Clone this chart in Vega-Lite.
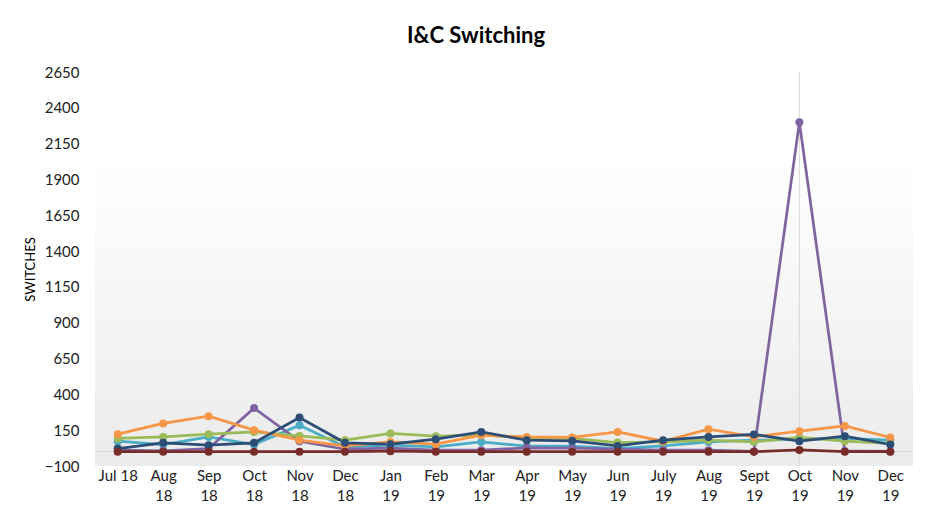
{
  "$schema": "https://vega.github.io/schema/vega-lite/v6.json",
  "autosize": {"type": "none"},
  "padding": {"left": 95, "top": 72, "right": 19, "bottom": 47},
  "width": 818,
  "height": 394,
  "background": "#ffffff",
  "title": {"text": "I&C Switching", "font": "Lato", "fontSize": 22, "fontWeight": "bold", "color": "#000000", "offset": 17, "dx": -28},
  "config": {"view": {"stroke": null}, "font": "Lato", "axis": {"labelOverlap": false}},
  "datasets": {
    "series": [
      {"s": "Series 3", "m": "Jul 18", "v": 73}, {"s": "Series 3", "m": "Aug 18", "v": 50}, {"s": "Series 3", "m": "Sep 18", "v": 103}, {"s": "Series 3", "m": "Oct 18", "v": 50}, {"s": "Series 3", "m": "Nov 18", "v": 185}, {"s": "Series 3", "m": "Dec 18", "v": 34}, {"s": "Series 3", "m": "Jan 19", "v": 45}, {"s": "Series 3", "m": "Feb 19", "v": 34}, {"s": "Series 3", "m": "Mar 19", "v": 68}, {"s": "Series 3", "m": "Apr 19", "v": 38}, {"s": "Series 3", "m": "May 19", "v": 38}, {"s": "Series 3", "m": "Jun 19", "v": 22}, {"s": "Series 3", "m": "July 19", "v": 40}, {"s": "Series 3", "m": "Aug 19", "v": 68}, {"s": "Series 3", "m": "Sept 19", "v": 80}, {"s": "Series 3", "m": "Oct 19", "v": 85}, {"s": "Series 3", "m": "Nov 19", "v": 92}, {"s": "Series 3", "m": "Dec 19", "v": 80},
      {"s": "Series 4", "m": "Jul 18", "v": 10}, {"s": "Series 4", "m": "Aug 18", "v": 6}, {"s": "Series 4", "m": "Sep 18", "v": 22}, {"s": "Series 4", "m": "Oct 18", "v": 304}, {"s": "Series 4", "m": "Nov 18", "v": 73}, {"s": "Series 4", "m": "Dec 18", "v": 17}, {"s": "Series 4", "m": "Jan 19", "v": 24}, {"s": "Series 4", "m": "Feb 19", "v": 10}, {"s": "Series 4", "m": "Mar 19", "v": 10}, {"s": "Series 4", "m": "Apr 19", "v": 27}, {"s": "Series 4", "m": "May 19", "v": 24}, {"s": "Series 4", "m": "Jun 19", "v": 17}, {"s": "Series 4", "m": "July 19", "v": 10}, {"s": "Series 4", "m": "Aug 19", "v": 10}, {"s": "Series 4", "m": "Sept 19", "v": 2}, {"s": "Series 4", "m": "Oct 19", "v": 2300}, {"s": "Series 4", "m": "Nov 19", "v": 5}, {"s": "Series 4", "m": "Dec 19", "v": 2},
      {"s": "Series 2", "m": "Jul 18", "v": 92}, {"s": "Series 2", "m": "Aug 18", "v": 103}, {"s": "Series 2", "m": "Sep 18", "v": 122}, {"s": "Series 2", "m": "Oct 18", "v": 138}, {"s": "Series 2", "m": "Nov 18", "v": 110}, {"s": "Series 2", "m": "Dec 18", "v": 80}, {"s": "Series 2", "m": "Jan 19", "v": 127}, {"s": "Series 2", "m": "Feb 19", "v": 108}, {"s": "Series 2", "m": "Mar 19", "v": 115}, {"s": "Series 2", "m": "Apr 19", "v": 98}, {"s": "Series 2", "m": "May 19", "v": 92}, {"s": "Series 2", "m": "Jun 19", "v": 64}, {"s": "Series 2", "m": "July 19", "v": 68}, {"s": "Series 2", "m": "Aug 19", "v": 80}, {"s": "Series 2", "m": "Sept 19", "v": 68}, {"s": "Series 2", "m": "Oct 19", "v": 99}, {"s": "Series 2", "m": "Nov 19", "v": 73}, {"s": "Series 2", "m": "Dec 19", "v": 58},
      {"s": "Series 1", "m": "Jul 18", "v": 122}, {"s": "Series 1", "m": "Aug 18", "v": 197}, {"s": "Series 1", "m": "Sep 18", "v": 248}, {"s": "Series 1", "m": "Oct 18", "v": 150}, {"s": "Series 1", "m": "Nov 18", "v": 80}, {"s": "Series 1", "m": "Dec 18", "v": 40}, {"s": "Series 1", "m": "Jan 19", "v": 68}, {"s": "Series 1", "m": "Feb 19", "v": 52}, {"s": "Series 1", "m": "Mar 19", "v": 115}, {"s": "Series 1", "m": "Apr 19", "v": 103}, {"s": "Series 1", "m": "May 19", "v": 99}, {"s": "Series 1", "m": "Jun 19", "v": 138}, {"s": "Series 1", "m": "July 19", "v": 73}, {"s": "Series 1", "m": "Aug 19", "v": 157}, {"s": "Series 1", "m": "Sept 19", "v": 103}, {"s": "Series 1", "m": "Oct 19", "v": 143}, {"s": "Series 1", "m": "Nov 19", "v": 180}, {"s": "Series 1", "m": "Dec 19", "v": 99},
      {"s": "Series 5", "m": "Jul 18", "v": 22}, {"s": "Series 5", "m": "Aug 18", "v": 62}, {"s": "Series 5", "m": "Sep 18", "v": 45}, {"s": "Series 5", "m": "Oct 18", "v": 62}, {"s": "Series 5", "m": "Nov 18", "v": 238}, {"s": "Series 5", "m": "Dec 18", "v": 62}, {"s": "Series 5", "m": "Jan 19", "v": 52}, {"s": "Series 5", "m": "Feb 19", "v": 87}, {"s": "Series 5", "m": "Mar 19", "v": 138}, {"s": "Series 5", "m": "Apr 19", "v": 80}, {"s": "Series 5", "m": "May 19", "v": 76}, {"s": "Series 5", "m": "Jun 19", "v": 40}, {"s": "Series 5", "m": "July 19", "v": 80}, {"s": "Series 5", "m": "Aug 19", "v": 103}, {"s": "Series 5", "m": "Sept 19", "v": 120}, {"s": "Series 5", "m": "Oct 19", "v": 73}, {"s": "Series 5", "m": "Nov 19", "v": 108}, {"s": "Series 5", "m": "Dec 19", "v": 50},
      {"s": "Series 6", "m": "Jul 18", "v": 0}, {"s": "Series 6", "m": "Aug 18", "v": 0}, {"s": "Series 6", "m": "Sep 18", "v": 0}, {"s": "Series 6", "m": "Oct 18", "v": 0}, {"s": "Series 6", "m": "Nov 18", "v": 0}, {"s": "Series 6", "m": "Dec 18", "v": 0}, {"s": "Series 6", "m": "Jan 19", "v": 3}, {"s": "Series 6", "m": "Feb 19", "v": 0}, {"s": "Series 6", "m": "Mar 19", "v": 0}, {"s": "Series 6", "m": "Apr 19", "v": 0}, {"s": "Series 6", "m": "May 19", "v": 0}, {"s": "Series 6", "m": "Jun 19", "v": 0}, {"s": "Series 6", "m": "July 19", "v": 0}, {"s": "Series 6", "m": "Aug 19", "v": 0}, {"s": "Series 6", "m": "Sept 19", "v": 0}, {"s": "Series 6", "m": "Oct 19", "v": 12}, {"s": "Series 6", "m": "Nov 19", "v": 0}, {"s": "Series 6", "m": "Dec 19", "v": 0}
    ]
  },
  "data": {"name": "series"},
  "encoding": {
    "x": {
      "field": "m", "type": "ordinal",
      "scale": {"type": "point", "padding": 0.5, "domain": ["Jul 18", "Aug 18", "Sep 18", "Oct 18", "Nov 18", "Dec 18", "Jan 19", "Feb 19", "Mar 19", "Apr 19", "May 19", "Jun 19", "July 19", "Aug 19", "Sept 19", "Oct 19", "Nov 19", "Dec 19"]},
      "axis": {
        "title": null, "domain": false, "ticks": false, "grid": false,
        "labelAngle": 0, "labelFont": "Lato", "labelFontSize": 15, "labelColor": "#222222",
        "labelPadding": 2, "labelLineHeight": 20, "labelOverlap": false,
        "labelExpr": "datum.label == 'Jul 18' ? datum.label : split(datum.label, ' ')"
      }
    }
  },
  "layer": [
    {
      "mark": {"type": "rect", "color": {"gradient": "linear", "x1": 0, "y1": 0, "x2": 0, "y2": 1, "stops": [{"offset": 0, "color": "#ffffff"}, {"offset": 0.2, "color": "#ffffff"}, {"offset": 1, "color": "#ebebeb"}]}},
      "data": {"values": [{"top": 2650, "bottom": -100}]},
      "encoding": {
        "x": null,
        "y": {
          "field": "top", "type": "quantitative",
          "scale": {"domain": [-100, 2650], "nice": false, "zero": false},
          "axis": {
            "values": [-100, 150, 400, 650, 900, 1150, 1400, 1650, 1900, 2150, 2400, 2650],
            "tickCount": 20,
            "format": "d", "labelOverlap": false,
            "title": "SWITCHES", "titleFont": "Lato", "titleFontSize": 13, "titleFontWeight": "normal", "titleColor": "#000000",
            "titleX": -65, "titleY": 197, "titleAngle": -90, "titleAlign": "center", "titleBaseline": "middle",
            "domain": false, "ticks": false, "grid": false,
            "labelFont": "Lato", "labelFontSize": 15, "labelColor": "#222222", "labelPadding": 16
          }
        },
        "y2": {"field": "bottom"}
      }
    },
    {
      "mark": {"type": "rule", "color": "#d9d9d9", "strokeWidth": 1},
      "data": {"values": [{"m": "Oct 19"}]},
      "encoding": {"x": {"field": "m", "type": "ordinal"}}
    },
    {
      "mark": {"type": "rule", "color": "#d9d9d9", "strokeWidth": 1},
      "data": {"values": [{"z": 0}]},
      "encoding": {"x": null, "y": {"field": "z", "type": "quantitative"}}
    },
    {
      "mark": {"type": "line", "strokeWidth": 2.75},
      "encoding": {
        "y": {"field": "v", "type": "quantitative"},
        "color": {
          "field": "s", "type": "nominal", "legend": null,
          "scale": {"domain": ["Series 1", "Series 2", "Series 3", "Series 4", "Series 5", "Series 6"], "range": ["#F79646", "#9BBB59", "#4BACC6", "#8064A2", "#2C4D75", "#772C2A"]}
        }
      }
    },
    {
      "mark": {"type": "point", "filled": true, "opacity": 1, "size": 64},
      "encoding": {
        "y": {"field": "v", "type": "quantitative"},
        "color": {"field": "s", "type": "nominal", "legend": null}
      }
    }
  ]
}
